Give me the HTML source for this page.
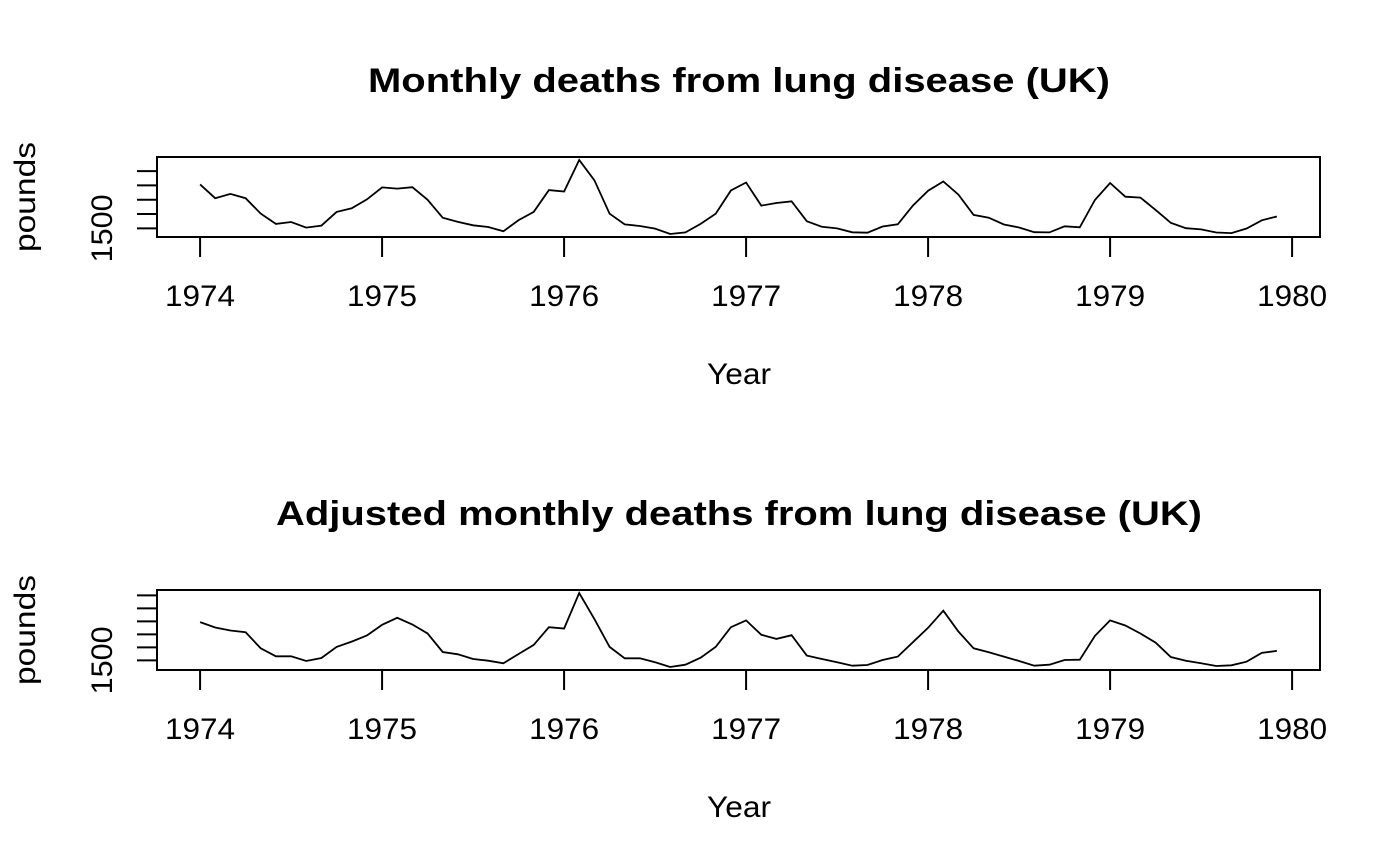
<!DOCTYPE html>
<html><head><meta charset="utf-8"><style>
body{margin:0;background:#fff;}
svg{display:block;font-family:"Liberation Sans","DejaVu Sans",sans-serif;}
</style></head><body>
<svg id="chart" width="1400" height="866"></svg>
<script>
const months = 72;
const startYear = 1974;
const yearTicks = [1974,1975,1976,1977,1978,1979,1980];
const deaths = [3035,2552,2704,2554,2014,1655,1721,1524,1596,2074,2199,2512,
2933,2889,2938,2497,1870,1726,1607,1545,1396,1787,2076,2837,
2787,3891,3179,2011,1636,1580,1489,1300,1356,1653,2013,2823,
3102,2294,2385,2444,1748,1554,1498,1361,1346,1564,1640,2293,
2815,3137,2679,1969,1870,1633,1529,1366,1357,1570,1535,2491,
3084,2605,2573,2143,1693,1504,1461,1354,1333,1492,1781,1915];
const adjusted = [2969,2763,2647,2583,1964,1655,1655,1474,1590,2016,2222,2454,
2866,3137,2879,2531,1822,1732,1552,1487,1384,1745,2093,2776,
2725,4091,3085,2016,1577,1577,1423,1242,1332,1603,2016,2776,
3034,2480,2325,2467,1680,1552,1423,1294,1320,1513,1642,2196,
2750,3408,2609,1964,1809,1642,1474,1294,1332,1513,1526,2441,
3034,2841,2531,2183,1629,1487,1384,1281,1307,1449,1784,1861];
const yTicks1 = [1500,2000,2500,3000,3500];
const yTicks2 = [1500,2000,2500,3000,3500,4000];
const yTickLabels = ["1500"];

const NS="http://www.w3.org/2000/svg";
const svg=document.getElementById('chart');
function mk(tag,attrs,parent){const e=document.createElementNS(NS,tag);for(const k in attrs)e.setAttribute(k,attrs[k]);(parent||svg).appendChild(e);return e;}

function panel(idx,title,titleW,data,yTicks,top,bottom){
  const L=157,R=1320;
  const g=mk('g',{});
  
  
  const xs=data.map((v,i)=>startYear+i/12);
  const x0=startYear,x1=startYear+(months-1)/12,xe=(x1-x0)*0.04;
  const xmin=x0-xe,xmax=x1+xe;
  const ymn=Math.min(...data),ymx=Math.max(...data),ye=(ymx-ymn)*0.04;
  const ymin=ymn-ye,ymax=ymx+ye;
  const X=v=>L+(v-xmin)/(xmax-xmin)*(R-L);
  const Y=v=>bottom-(v-ymin)/(ymax-ymin)*(bottom-top);
  const t=mk('text',{x:739,y:top-65,'text-anchor':'middle','font-size':'34','font-weight':'bold',textLength:titleW,lengthAdjust:'spacingAndGlyphs'},g);
  t.textContent=title;
  
  
  const box=mk('rect',{x:L,y:top,width:R-L,height:bottom-top,fill:'none',stroke:'#000','stroke-width':2},g);
  
  
  const pts=data.map((v,i)=>X(xs[i]).toFixed(1)+','+Y(v).toFixed(1)).join(' ');
  const line=mk('polyline',{points:pts,fill:'none',stroke:'#000','stroke-width':1.8},g);
  
  
  yearTicks.forEach(yr=>{
    const tk=mk('line',{x1:X(yr),x2:X(yr),y1:bottom,y2:bottom+20,stroke:'#000','stroke-width':2},g);
    
    
    const lb=mk('text',{x:X(yr),y:bottom+69,'text-anchor':'middle','font-size':'30',textLength:70,lengthAdjust:'spacingAndGlyphs'},g);
    lb.textContent=yr;
    
    
  });
  const xl=mk('text',{x:739,y:bottom+147,'text-anchor':'middle','font-size':'30',textLength:64,lengthAdjust:'spacingAndGlyphs'},g);
  xl.textContent='Year';
  
  
  yTicks.forEach(v=>{
    const tk=mk('line',{x1:L-20,x2:L,y1:Y(v),y2:Y(v),stroke:'#000','stroke-width':2},g);
    
    
  });
  const yl=mk('text',{x:0,y:0,'text-anchor':'middle','font-size':'30',textLength:68,lengthAdjust:'spacingAndGlyphs',transform:`translate(112,${Y(yTicks[0])}) rotate(-90)`},g);
  yl.textContent=yTickLabels[0];
  
  
  const yt=mk('text',{x:0,y:0,'text-anchor':'middle','font-size':'30',textLength:110,lengthAdjust:'spacingAndGlyphs',transform:`translate(35,${(top+bottom)/2}) rotate(-90)`},g);
  yt.textContent='pounds';
  
  
}
panel(1,'Monthly deaths from lung disease (UK)',742,deaths,yTicks1,157,237);
panel(2,'Adjusted monthly deaths from lung disease (UK)',926,adjusted,yTicks2,590,670);
</script>
</body></html>
